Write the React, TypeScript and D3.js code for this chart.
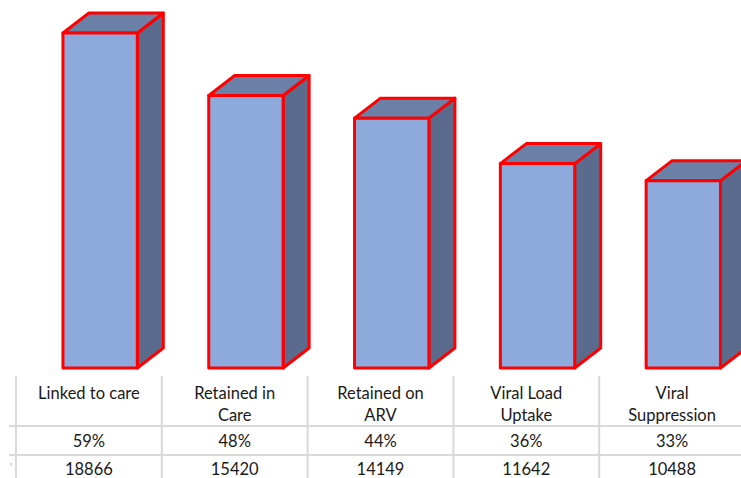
import { useEffect, useRef } from "react"
import * as d3 from "d3"

// Funnel stages and the values shown in the table below the bars
const categories = ["Linked to care", "Retained in Care", "Retained on ARV", "Viral Load Uptake", "Viral Suppression"]
const labelLines = [["Linked to care"], ["Retained in", "Care"], ["Retained on", "ARV"], ["Viral Load", "Uptake"], ["Viral", "Suppression"]]
const percents = [59, 48, 44, 36, 33]
const counts = [18866, 15420, 14149, 11642, 10488]

const W = 741
const H = 478

export default function App() {
  const svgRef = useRef<SVGSVGElement>(null)

  useEffect(() => {
    if (!svgRef.current) return
    const svg = d3.select(svgRef.current)
    svg.selectAll("*").remove()

    const font = "Lato, 'Open Sans', sans-serif"
    const x = d3.scaleBand<string>().domain(categories).range([16, 745])
    const y = d3.scaleLinear().domain([0, 59]).range([368, 33])
    const bw = x.bandwidth()
    const barW = bw * 0.51
    const dx = 26
    const dy = 20

    const data = categories.map((c, i) => ({ c, v: percents[i], n: counts[i], lines: labelLines[i] }))

    // 3D bars
    const bars = svg.append("g").selectAll("g").data(data).enter().append("g")
    const stroke = "#ff0000"
    const sw = 3

    bars.each(function (d) {
      const g = d3.select(this)
      const x0 = (x(d.c) ?? 0) + bw * 0.322
      const x1 = x0 + barW
      const yt = y(d.v)
      const yb = y(0)
      // right side
      g.append("path")
        .attr("d", `M${x1},${yt}L${x1 + dx},${yt - dy}L${x1 + dx},${yb - dy}L${x1},${yb}Z`)
        .attr("fill", "#5a6b8d")
        .attr("stroke", stroke)
        .attr("stroke-width", sw)
        .attr("stroke-linejoin", "round")
      // top
      g.append("path")
        .attr("d", `M${x0},${yt}L${x0 + dx},${yt - dy}L${x1 + dx},${yt - dy}L${x1},${yt}Z`)
        .attr("fill", "#6b80a7")
        .attr("stroke", stroke)
        .attr("stroke-width", sw)
        .attr("stroke-linejoin", "round")
      // front
      g.append("rect")
        .attr("x", x0)
        .attr("y", yt)
        .attr("width", barW)
        .attr("height", yb - yt)
        .attr("fill", "#8eaadc")
        .attr("stroke", stroke)
        .attr("stroke-width", sw)
        .attr("stroke-linejoin", "round")
    })

    // data table grid
    const grid = svg.append("g").attr("stroke", "#d9d9d9").attr("stroke-width", 2)
    const cols = categories.map((c) => x(c) ?? 0)
    cols.forEach((cx) => {
      grid.append("line").attr("x1", cx).attr("x2", cx).attr("y1", 376).attr("y2", H)
    })
    ;[426, 455].forEach((ly) => {
      grid.append("line").attr("x1", 9).attr("x2", W).attr("y1", ly).attr("y2", ly)
    })

    svg.append("text")
      .attr("x", 10)
      .attr("y", 470)
      .style("font-family", font)
      .style("font-size", "10px")
      .style("fill", "#999")
      .text("'")

    const cells = svg.append("g")
      .style("font-family", font)
      .style("font-size", "16.5px")
      .style("fill", "#1a1a1a")
      .attr("text-anchor", "middle")

    data.forEach((d) => {
      const cx = (x(d.c) ?? 0) + bw / 2
      d.lines.forEach((ln, j) => {
        cells.append("text").attr("x", cx).attr("y", 399 + j * 22).text(ln)
      })
      cells.append("text").attr("x", cx).attr("y", 447).text(`${d.v}%`)
      cells.append("text").attr("x", cx).attr("y", 475).text(d.n)
    })
  }, [])

  return (
    <div style={{ position: "absolute", left: 0, top: 0, width: W, height: H, background: "#fff" }}>
      <svg ref={svgRef} width={W} height={H} style={{ display: "block" }}></svg>
    </div>
  )
}
